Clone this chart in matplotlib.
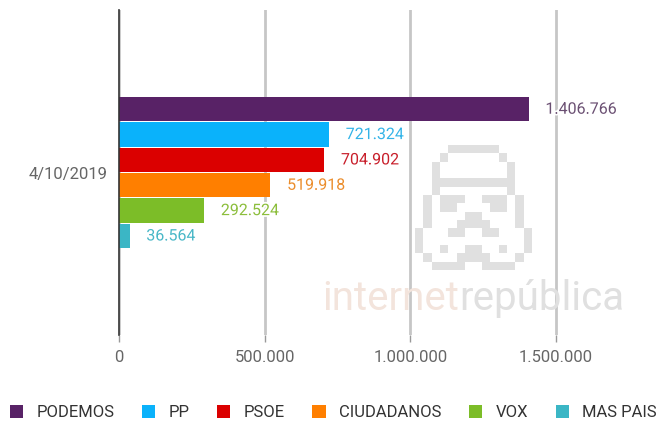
import matplotlib
matplotlib.use('Agg')
import numpy as np
import matplotlib.pyplot as plt
import matplotlib.patheffects as pe
from matplotlib.ticker import FuncFormatter

plt.rcParams['font.family'] = ['Roboto', 'DejaVu Sans']

# data
category = '4/10/2019'
parties = ['PODEMOS', 'PP', 'PSOE', 'CIUDADANOS', 'VOX', 'MAS PAIS']
votes = [1406766, 721324, 704902, 519918, 292524, 36564]
bar_colors = ['#582266', '#0ab2fb', '#db0000', '#ff7f00', '#7cbd28', '#3bb6c5']
label_colors = ['#6a4f72', '#34b4e8', '#c81f2b', '#eb8d2c', '#8cbe3c', '#48b7c7']
xticks = [0, 500000, 1000000, 1500000]

# pixel-art watermark (stormtrooper), # = grey cell
trooper = [
    "....######....",
    "...#......#...",
    "..#........#..",
    "..#........#..",
    "..##########..",
    "..#........#..",
    ".#.###..###.#.",
    ".#.##....##.#.",
    ".#....##....#.",
    ".#...####...#.",
    "#...##..##...#",
    "#............#",
    "#..#..##..#..#",
    ".#...####...#.",
    "..####..####..",
]


def dots(v, pos=None):
    return f'{int(v):,}'.replace(',', '.')


fig = plt.figure(figsize=(6.6, 4.21), dpi=100)
ax = fig.add_axes([0.1803, 0.204, 0.79, 0.772])

n = len(parties)
h = 0.078
for i, (p, v, c, lc) in enumerate(zip(parties, votes, bar_colors, label_colors)):
    y = (n - 1) / 2 * h - i * h
    ax.barh(y, v, height=h * 0.96, color=c, label=p, zorder=3)
    ax.annotate(dots(v), (v, y), xytext=(12, 0), textcoords='offset points',
                va='center', ha='left', fontsize=11.5, color=lc, zorder=5,
                path_effects=[pe.withStroke(linewidth=2.5, foreground='white')])

ax.set_ylim(-0.5, 0.5)
ax.set_xlim(0, 1790000)
ax.set_yticks([0])
ax.set_yticklabels([category], fontsize=12, color='#666666')
ax.set_xticks(xticks)
ax.xaxis.set_major_formatter(FuncFormatter(dots))
ax.tick_params(axis='x', labelsize=12, labelcolor='#666666', color='#999999',
               length=5, width=1, pad=6)
ax.tick_params(axis='y', length=0, pad=8)
ax.grid(axis='x', color='#c6c6c6', linewidth=2, zorder=0)
for s in ['top', 'right', 'bottom']:
    ax.spines[s].set_visible(False)
ax.spines['left'].set_color('#333333')
ax.spines['left'].set_linewidth(1.2)
ax.spines['left'].set_zorder(4)

# watermark
grid = np.array([[ch == '#' for ch in row] for row in trooper], dtype=float)
rgba = np.ones(grid.shape + (4,))
rgba[..., :3] = 0.88
rgba[..., 3] = grid
wax = fig.add_axes([415 / 660, 1 - 270 / 421, 117 / 660, 125 / 421], zorder=6)
wax.imshow(rgba, interpolation='nearest', aspect='auto')
wax.axis('off')

t1 = fig.text(0.488, 0.264, 'internet', fontsize=29, color='#f3e4dc',
              ha='left', va='baseline', zorder=1)
t2 = fig.text(0.7, 0.264, 'república', fontsize=29, color='#e0e0e0',
              ha='left', va='baseline', zorder=1)
# put the second word right after the first
fig.canvas.draw()
t2.set_x(t1.get_window_extent().x1 / fig.bbox.width)

ax.legend(loc='center', bbox_to_anchor=(0.505, 0.02), bbox_transform=fig.transFigure,
          ncol=6, frameon=False, fontsize=12, handlelength=0.8, handleheight=0.8,
          handletextpad=0.8, columnspacing=1.65, labelcolor='#333333')

fig.savefig('out.png', dpi=100)
